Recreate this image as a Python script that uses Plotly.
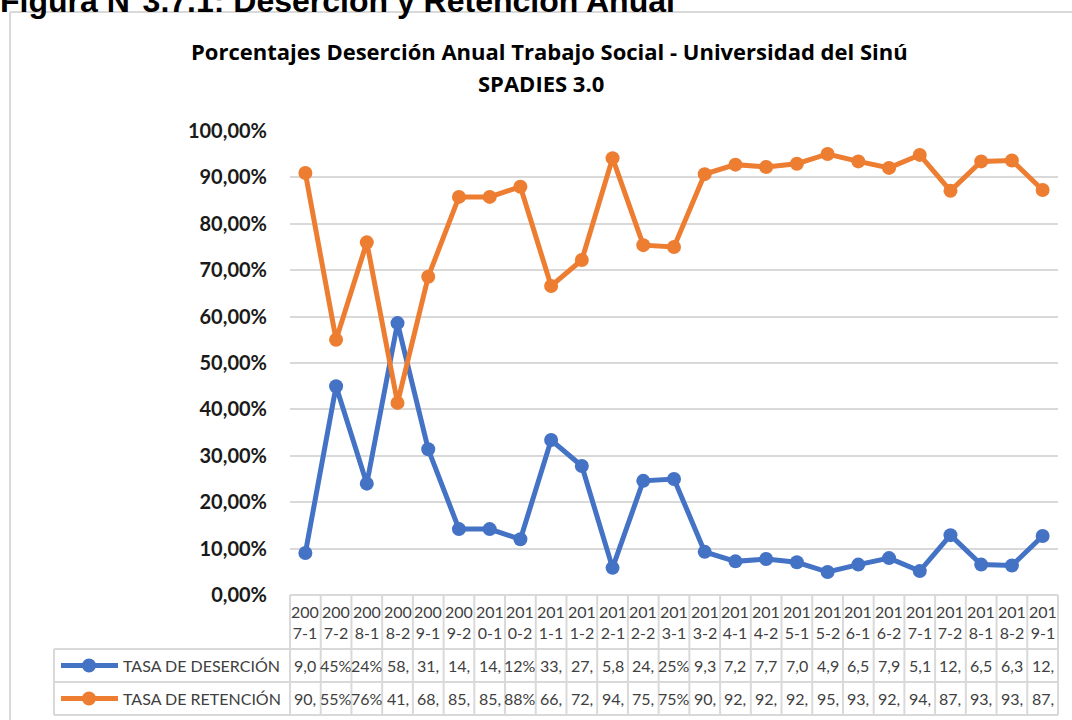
import plotly.graph_objects as go

# Datos (porcentajes por periodo)
periodos = ["2007-1", "2007-2", "2008-1", "2008-2", "2009-1", "2009-2", "2010-1",
            "2010-2", "2011-1", "2011-2", "2012-1", "2012-2", "2013-1", "2013-2",
            "2014-1", "2014-2", "2015-1", "2015-2", "2016-1", "2016-2", "2017-1",
            "2017-2", "2018-1", "2018-2", "2019-1"]
desercion = [9.05, 45.0, 24.0, 58.6, 31.4, 14.2, 14.2, 12.0, 33.4, 27.8, 5.85, 24.6, 25.0,
             9.3, 7.25, 7.75, 7.05, 4.95, 6.55, 7.95, 5.15, 12.9, 6.55, 6.35, 12.7]
retencion = [90.95, 55.0, 76.0, 41.4, 68.6, 85.8, 85.8, 88.0, 66.6, 72.2, 94.15, 75.4, 75.0,
             90.7, 92.75, 92.25, 92.95, 95.05, 93.45, 92.05, 94.85, 87.1, 93.45, 93.65, 87.3]
# texto tal como aparece (recortado) en la tabla de datos de Excel
texto_desercion = ["9,0", "45%", "24%", "58,", "31,", "14,", "14,", "12%", "33,", "27,",
                   "5,8", "24,", "25%", "9,3", "7,2", "7,7", "7,0", "4,9", "6,5", "7,9",
                   "5,1", "12,", "6,5", "6,3", "12,"]
texto_retencion = ["90,", "55%", "76%", "41,", "68,", "85,", "85,", "88%", "66,", "72,",
                   "94,", "75,", "75%", "90,", "92,", "92,", "92,", "95,", "93,", "92,",
                   "94,", "87,", "93,", "93,", "87,"]
y_ticks = [0, 10, 20, 30, 40, 50, 60, 70, 80, 90, 100]
y_ticktext = [f"{v:.2f}".replace(".", ",") + "%" for v in y_ticks]

AZUL = "#4472C4"
NARANJA = "#ED7D31"
GRIS = "#D9D9D9"
TEXTO = "#404040"
FONT = "Lato"

W, H = 1072, 720
ML, MR, MT, MB = 290, 14, 131, 125
PW, PH = W - ML - MR, H - MT - MB


def px(x):
    # pixel horizontal -> coordenada paper
    return (x - ML) / PW


def py(y):
    # pixel vertical -> coordenada paper
    return (H - MB - y) / PH


fig = go.Figure()
fig.add_trace(go.Scatter(
    x=periodos, y=desercion, mode="lines+markers", name="TASA DE DESERCIÓN",
    line=dict(color=AZUL, width=5), marker=dict(size=14, color=AZUL)
))
fig.add_trace(go.Scatter(
    x=periodos, y=retencion, mode="lines+markers", name="TASA DE RETENCIÓN",
    line=dict(color=NARANJA, width=5), marker=dict(size=14, color=NARANJA)
))

shapes = []
annotations = []

# marco del gráfico
shapes.append(dict(type="line", xref="paper", yref="paper", x0=px(10), x1=px(W + 5),
                   y0=py(12), y1=py(12), line=dict(color=GRIS, width=2)))
shapes.append(dict(type="line", xref="paper", yref="paper", x0=px(10), x1=px(10),
                   y0=py(12), y1=py(H + 5), line=dict(color=GRIS, width=2)))

# tabla de datos
fila_top, fila1, fila2, fila3 = H - MB, 649, 682, 715
n = len(periodos)
for k in range(n + 1):
    shapes.append(dict(type="line", xref="paper", yref="paper", x0=k / n, x1=k / n,
                       y0=py(fila_top), y1=py(fila3), line=dict(color=GRIS, width=2)))
shapes.append(dict(type="line", xref="paper", yref="paper", x0=0, x1=1,
                   y0=py(fila_top), y1=py(fila_top), line=dict(color=GRIS, width=2)))
for yy in (fila1, fila2, fila3):
    shapes.append(dict(type="line", xref="paper", yref="paper", x0=px(54), x1=1,
                       y0=py(yy), y1=py(yy), line=dict(color=GRIS, width=2)))
shapes.append(dict(type="line", xref="paper", yref="paper", x0=px(54), x1=px(54),
                   y0=py(fila1), y1=py(fila3), line=dict(color=GRIS, width=2)))

tabla_font = dict(family=FONT, size=16, color=TEXTO)
for p, td, tr in zip(periodos, texto_desercion, texto_retencion):
    annotations.append(dict(x=p, xref="x", yref="paper", y=py((fila_top + fila1) / 2),
                            yanchor="middle", text=p[:3] + "<br>" + p[3:], showarrow=False,
                            font=tabla_font, align="center"))
    annotations.append(dict(x=p, xref="x", yref="paper", y=py((fila1 + fila2) / 2),
                            yanchor="middle", text=td, showarrow=False, font=tabla_font))
    annotations.append(dict(x=p, xref="x", yref="paper", y=py((fila2 + fila3) / 2),
                            yanchor="middle", text=tr, showarrow=False, font=tabla_font))

# claves de leyenda dentro de la tabla
for tr, yc in ((fig.data[0], (fila1 + fila2) / 2), (fig.data[1], (fila2 + fila3) / 2)):
    color = tr.line.color
    shapes.append(dict(type="line", xref="paper", yref="paper", x0=px(61), x1=px(118),
                       y0=py(yc), y1=py(yc), line=dict(color=color, width=5)))
    shapes.append(dict(type="circle", xref="paper", yref="paper", xsizemode="pixel",
                       ysizemode="pixel", xanchor=px(89), yanchor=py(yc), x0=-7, x1=7,
                       y0=-7, y1=7, fillcolor=color, line=dict(color=color, width=0)))
    annotations.append(dict(x=px(121), y=py(yc), xref="paper", yref="paper", xanchor="left",
                            yanchor="middle", text=tr.name, showarrow=False, font=tabla_font))

# títulos
annotations.append(dict(x=px(-2), y=py(21), xref="paper", yref="paper", xanchor="left",
                        yanchor="bottom", showarrow=False,
                        text="<b>Figura N°3.7.1: Deserción y Retención Anual</b>",
                        font=dict(family="Liberation Sans", size=32, color="#000000")))
annotations.append(dict(x=px(549), y=py(51), xref="paper", yref="paper", showarrow=False,
                        xanchor="center", yanchor="middle",
                        text="<b>Porcentajes Deserción Anual Trabajo Social - Universidad del Sinú</b>",
                        font=dict(family="Open Sans", size=22, color="#000000")))
annotations.append(dict(x=px(541), y=py(83), xref="paper", yref="paper", showarrow=False,
                        xanchor="center", yanchor="middle", text="<b>SPADIES 3.0</b>",
                        font=dict(family="Open Sans", size=22, color="#000000")))

fig.update_layout(
    width=W, height=H,
    margin=dict(l=ML, r=MR, t=MT, b=MB),
    plot_bgcolor="white",
    paper_bgcolor="white",
    showlegend=False,
    shapes=shapes,
    annotations=annotations,
    xaxis=dict(type="category", range=[-0.5, n - 0.5], showticklabels=False,
               showgrid=False, zeroline=False, showline=False, ticks=""),
    yaxis=dict(range=[0, 100], tickvals=y_ticks, ticktext=y_ticktext,
               showgrid=True, gridcolor=GRIS, gridwidth=2, zeroline=False,
               showline=False, ticks="", ticklabelstandoff=22,
               tickfont=dict(family=FONT, size=20, color="#1a1a1a", weight="bold")),
)

fig.write_html("out.html", config={"displayModeBar": False},
               post_script="document.body.style.margin='0';")
